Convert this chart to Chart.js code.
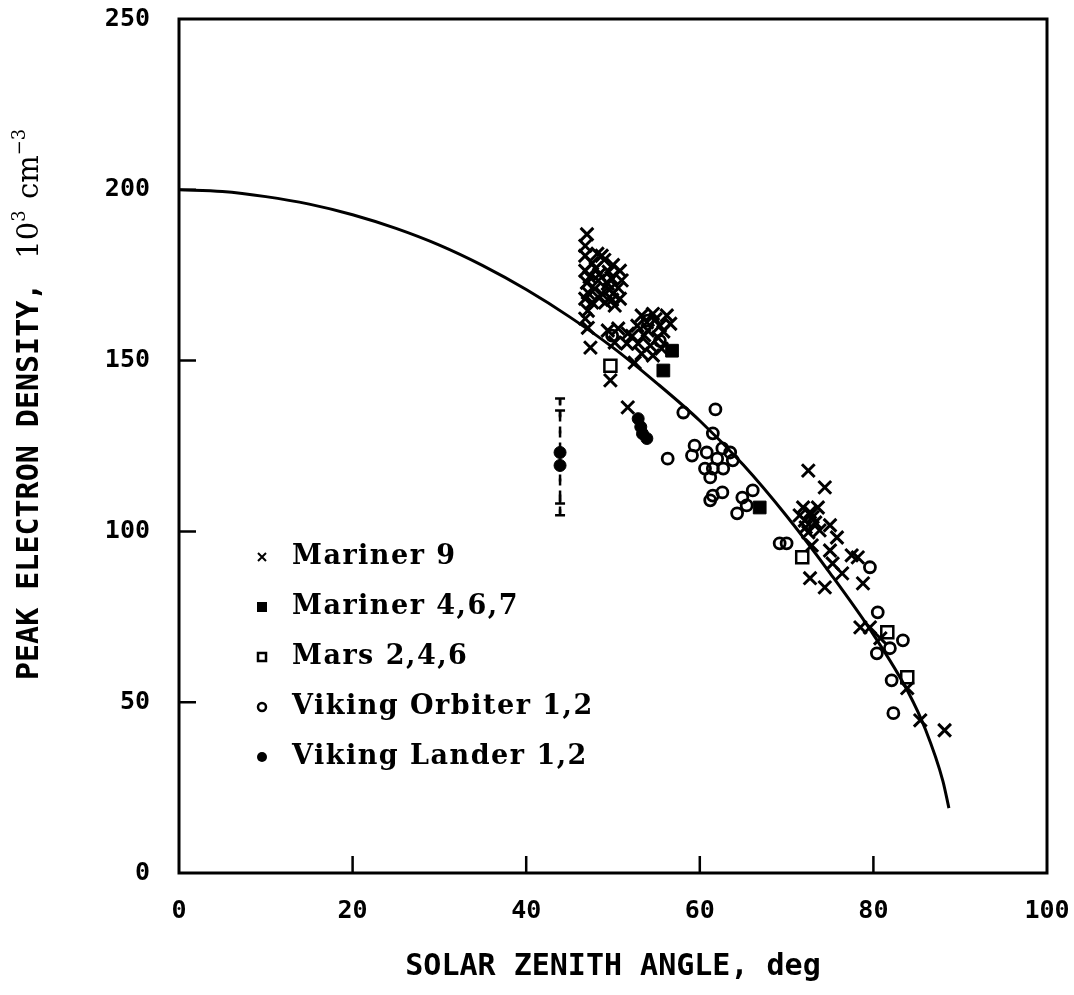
<!DOCTYPE html>
<html>
<head>
<meta charset="utf-8">
<script src="https://cdn.jsdelivr.net/npm/chart.js@4.4.1/dist/chart.umd.min.js"></script>
<style>
  html, body { margin: 0; padding: 0; background: #fff; }
</style>
</head>
<body>
<canvas id="chart" width="1074" height="995"></canvas>
<script>
// model curve, peak density vs solar zenith angle
const curveAngle   = [0, 5, 10, 15, 20, 25, 30, 35, 40, 45, 50, 55, 60, 65, 70, 75, 80, 84, 86, 88, 88.7];
const curveDensity = [200, 199.5, 198, 195.8, 192.7, 188.7, 183.8, 177.8, 170.8, 162.8, 153.8, 143.5, 132.4, 119.5, 104.5, 87.8, 69.8, 53, 42, 27, 19];

// observations [angle, density]
const mariner9 = [
  [47.0, 187], [46.8, 183.6], [48.2, 181.3], [46.8, 180.7], [48.7, 180.7], [50.8, 176.3], [46.8, 176.3],
  [49.5, 176], [48.0, 177], [50.0, 178], [49.0, 179.5], [47.6, 178.5], [48.4, 175.2], [49.8, 174.2],
  [47.0, 172.8], [48.3, 173.4], [49.4, 172.5], [50.6, 171.3], [47.1, 169.9], [48.7, 169.6], [50.0, 169.6],
  [50.8, 168.1], [47.6, 167], [49.1, 167], [50.2, 166.1], [46.8, 168.1], [47.9, 171], [49.6, 170.8],
  [48.4, 168.3], [49.9, 167.8], [51.0, 173.5], [47.3, 174.5],
  [47.1, 164.6], [46.8, 162.3], [47.1, 159.6], [47.4, 153.8],
  [53.3, 163.2], [54.6, 163.7], [56.2, 163.2], [56.6, 160.8], [52.8, 160.2], [49.4, 158.8], [50.6, 159.4],
  [51.7, 157.9], [54.0, 158.8], [55.2, 156.7], [50.2, 155.3], [51.6, 155], [52.9, 155], [54.3, 154.4],
  [53.3, 152], [52.5, 149.4], [54.6, 151.5], [55.6, 153.5], [53.9, 161.2], [55.4, 160.2], [52.2, 157.2],
  [53.6, 157.4], [55.8, 158.5], [54.9, 162.1],
  [49.7, 144.2], [51.7, 136.3],
  [72.5, 117.8], [74.4, 112.9], [71.9, 107], [72.7, 105.6], [73.6, 107], [72.1, 103.2], [73.3, 102.6],
  [72.5, 99.7], [73.8, 100.3], [72.9, 95.9], [71.5, 104.7], [72.2, 101.2], [73.0, 104.2],
  [75.0, 101.8], [75.8, 98.2], [75.0, 94.4], [77.5, 93], [75.3, 90.6], [76.4, 87.7], [72.7, 86.3],
  [74.4, 83.6], [78.8, 84.8], [78.2, 92.4],
  [78.5, 71.9], [79.6, 71.9], [80.8, 68.7], [83.9, 54.1], [85.4, 44.7], [88.2, 41.8]
];
const mariner467 = [[56.8, 152.9], [55.8, 147.1], [66.9, 107]];
const mars246 = [[49.7, 148.5], [71.8, 92.4], [81.6, 70.5], [83.9, 57.3]];
const vikingOrbiter = [
  [58.1, 134.8], [61.8, 135.7], [61.5, 128.7], [59.4, 125.1], [60.8, 123.1], [59.1, 122.2], [62.6, 124.3],
  [63.5, 123.1], [62.0, 121.3], [63.8, 120.8], [56.3, 121.3], [60.6, 118.4], [61.5, 118.4], [62.7, 118.4],
  [61.2, 115.8], [62.6, 111.4], [61.5, 110.5], [61.2, 109.1], [66.1, 112], [64.9, 109.9], [65.4, 107.6],
  [64.3, 105.3], [69.2, 96.5], [70.0, 96.5], [79.6, 89.5], [80.5, 76.3], [83.4, 68.1], [80.4, 64.3],
  [81.9, 65.8], [82.1, 56.4], [82.3, 46.8], [49.9, 157.3], [54.0, 161.7], [55.4, 155.8]
];
const vikingLander = [[43.9, 123.1], [43.9, 119.3], [52.9, 133], [53.2, 130.6], [53.4, 128.6], [53.9, 127.2]];

// lander error bars
const barAngle = [43.9, 43.9];
const barLow   = [108.2, 104.7];
const barHigh  = [138.9, 135.4];

const xTicks = [0, 20, 40, 60, 80, 100];
const yTicks = [0, 50, 100, 150, 200, 250];

const MONO = '"DejaVu Sans Mono", monospace';
const SERIF = '"DejaVu Serif", serif';

const toXY = arr => arr.map(p => ({ x: p[0], y: p[1] }));

const legendItems = [
  { label: 'Mariner 9', style: 'cross' },
  { label: 'Mariner 4,6,7', style: 'fsquare' },
  { label: 'Mars 2,4,6', style: 'osquare' },
  { label: 'Viking Orbiter 1,2', style: 'ocircle' },
  { label: 'Viking Lander 1,2', style: 'fcircle' }
];

function drawSymbol(ctx, style, x, y) {
  ctx.save();
  ctx.strokeStyle = '#000';
  ctx.fillStyle = '#000';
  ctx.lineWidth = 2;
  ctx.beginPath();
  if (style === 'cross') {
    ctx.moveTo(x - 4, y - 4); ctx.lineTo(x + 4, y + 4);
    ctx.moveTo(x + 4, y - 4); ctx.lineTo(x - 4, y + 4);
    ctx.stroke();
  } else if (style === 'fsquare') {
    ctx.fillRect(x - 5, y - 5, 10, 10);
  } else if (style === 'osquare') {
    ctx.lineWidth = 2.5;
    ctx.strokeRect(x - 4, y - 4, 8, 8);
  } else if (style === 'ocircle') {
    ctx.lineWidth = 2.5;
    ctx.arc(x, y, 4, 0, Math.PI * 2);
    ctx.stroke();
  } else {
    ctx.arc(x, y, 5, 0, Math.PI * 2);
    ctx.fill();
  }
  ctx.restore();
}

// the axes keep no extra room for their labels
function fixPadding(s) {
  s.paddingTop = 0; s.paddingBottom = 0; s.paddingLeft = 0; s.paddingRight = 0;
}

const decorations = {
  id: 'decorations',
  afterDatasetsDraw(chart) {
    const { ctx, chartArea: a, scales: { x, y } } = chart;
    ctx.save();
    ctx.strokeStyle = '#000';
    ctx.lineCap = 'butt';

    // frame
    ctx.lineWidth = 3;
    ctx.strokeRect(a.left, a.top, a.right - a.left, a.bottom - a.top);

    // inward ticks on left and bottom
    ctx.lineWidth = 2.5;
    ctx.beginPath();
    yTicks.slice(1, -1).forEach(v => {
      const py = y.getPixelForValue(v);
      ctx.moveTo(a.left, py); ctx.lineTo(a.left + 17, py);
    });
    xTicks.slice(1, -1).forEach(v => {
      const px = x.getPixelForValue(v);
      ctx.moveTo(px, a.bottom); ctx.lineTo(px, a.bottom - 17);
    });
    ctx.stroke();

    // dashed error bars with caps
    ctx.lineWidth = 2.5;
    barAngle.forEach((ang, i) => {
      const px = x.getPixelForValue(ang);
      const top = y.getPixelForValue(barHigh[i]);
      const bot = y.getPixelForValue(barLow[i]);
      ctx.setLineDash([7, 9]);
      ctx.beginPath();
      ctx.moveTo(px, top); ctx.lineTo(px, bot);
      ctx.stroke();
      ctx.setLineDash([]);
      ctx.beginPath();
      ctx.moveTo(px - 5, top); ctx.lineTo(px + 5, top);
      ctx.moveTo(px - 5, bot); ctx.lineTo(px + 5, bot);
      ctx.moveTo(px, top); ctx.lineTo(px, top + 6);
      ctx.moveTo(px, bot); ctx.lineTo(px, bot - 6);
      ctx.stroke();
    });

    // legend
    ctx.fillStyle = '#000';
    ctx.font = 'bold 27px ' + SERIF;
    ctx.letterSpacing = '1.5px';
    ctx.textAlign = 'left';
    ctx.textBaseline = 'middle';
    legendItems.forEach((item, i) => {
      const ly = 557 + i * 50;
      drawSymbol(ctx, item.style, 262, ly);
      ctx.fillText(item.label, 292, ly);
    });
    ctx.letterSpacing = '0px';

    // y axis title with units
    ctx.translate(30, 680);
    ctx.rotate(-Math.PI / 2);
    ctx.textBaseline = 'middle';
    ctx.font = 'bold 30px ' + MONO;
    const main = 'PEAK ELECTRON DENSITY,';
    ctx.fillText(main, 0, 0);
    let cx = ctx.measureText(main).width + 24;
    const parts = [['10', false], ['3', true], [' cm', false], ['\u22123', true]];
    parts.forEach(([t, sup]) => {
      ctx.font = (sup ? '18px ' : '29px ') + SERIF;
      ctx.fillText(t, cx, sup ? -10 : 0);
      cx += ctx.measureText(t).width + (sup ? 2 : 0);
    });
    ctx.restore();
  }
};

const pointBase = { showLine: false, borderColor: '#000' };

new Chart(document.getElementById('chart'), {
  type: 'scatter',
  data: {
    datasets: [
      {
        label: 'model',
        data: curveAngle.map((a, i) => ({ x: a, y: curveDensity[i] })),
        showLine: true,
        borderColor: '#000',
        borderWidth: 3,
        pointRadius: 0,
        cubicInterpolationMode: 'monotone',
        fill: false
      },
      { ...pointBase, label: 'Mariner 9', data: toXY(mariner9), pointStyle: 'crossRot', pointRadius: 9, borderWidth: 3 },
      { ...pointBase, label: 'Mariner 4,6,7', data: toXY(mariner467), pointStyle: 'rect', pointRadius: 9, backgroundColor: '#000', borderWidth: 1 },
      { ...pointBase, label: 'Mars 2,4,6', data: toXY(mars246), pointStyle: 'rect', pointRadius: 8.5, backgroundColor: '#fff', borderWidth: 2.5 },
      { ...pointBase, label: 'Viking Orbiter 1,2', data: toXY(vikingOrbiter), pointStyle: 'circle', pointRadius: 5.5, backgroundColor: 'rgba(255,255,255,0)', borderWidth: 2.8 },
      { ...pointBase, label: 'Viking Lander 1,2', data: toXY(vikingLander), pointStyle: 'circle', pointRadius: 6, backgroundColor: '#000', borderWidth: 1 }
    ]
  },
  options: {
    responsive: false,
    animation: false,
    devicePixelRatio: 1,
    layout: { padding: { top: 19, right: 27, left: 0, bottom: 0 } },
    plugins: { legend: { display: false }, tooltip: { enabled: false } },
    scales: {
      x: {
        type: 'linear',
        min: 0, max: 100,
        afterFit: s => { s.height = 122; fixPadding(s); },
        afterBuildTicks: s => { s.ticks = xTicks.map(v => ({ value: v })); },
        grid: { display: false, drawTicks: false },
        border: { display: false },
        ticks: { color: '#000', padding: 23, font: { family: MONO, size: 25, weight: 'bold' } },
        title: {
          display: true,
          text: 'SOLAR ZENITH ANGLE, deg',
          color: '#000',
          font: { family: MONO, size: 30, weight: 'bold' },
          padding: { bottom: 10 }
        }
      },
      y: {
        type: 'linear',
        min: 0, max: 250,
        afterFit: s => { s.width = 179; fixPadding(s); },
        afterBuildTicks: s => { s.ticks = yTicks.map(v => ({ value: v })); },
        grid: { display: false, drawTicks: false },
        border: { display: false },
        ticks: { color: '#000', padding: 29, font: { family: MONO, size: 25, weight: 'bold' } }
      }
    }
  },
  plugins: [decorations]
});
</script>
</body>
</html>
